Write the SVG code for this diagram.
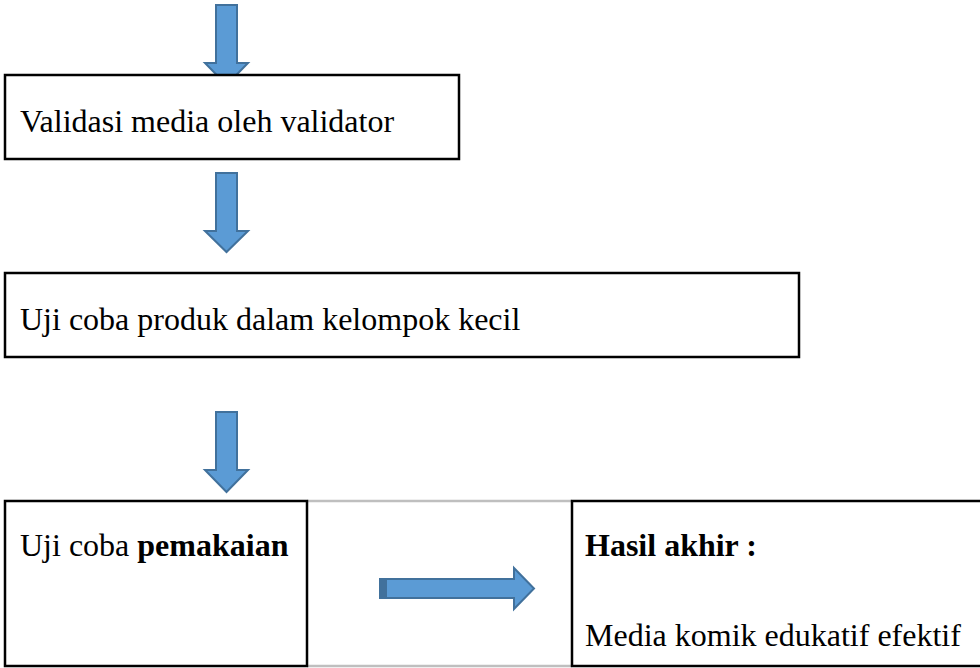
<svg xmlns="http://www.w3.org/2000/svg" width="980" height="668" viewBox="0 0 980 668">
<style>
.box{fill:#fff;stroke:#000;stroke-width:2.5}
.arr{fill:#5B9BD5;stroke:#41719C;stroke-width:2;stroke-linejoin:miter}
.t{font-family:'Liberation Serif','Times New Roman',serif;font-size:32px;fill:#000}
.b{font-weight:bold}
.sep{stroke:#BFBFBF;stroke-width:2.5}
</style>
<rect width="980" height="668" fill="#fff"/>
<g id="connectors">
<polygon class="arr" points="216,5 237,5 237,63 248,63 226.5,85 205,63 216,63"/>
<polygon class="arr" points="216,173 237,173 237,231 248,231 226.5,252 205,231 216,231"/>
<polygon class="arr" points="216,412 237,412 237,470 248,470 226.5,492 205,470 216,470"/>
<polygon class="arr" points="380,579 514,579 514,568 534,588.5 514,609 514,598 380,598"/>
<rect x="380" y="579" width="7" height="19" fill="#41719C"/>
</g>
<g id="node-validasi">
<rect class="box" x="5" y="75" width="454" height="84"/>
<text class="t" x="20" y="132">Validasi media oleh validator</text>
</g>
<g id="node-ujicoba-kecil">
<rect class="box" x="5" y="273" width="794" height="84"/>
<text class="t" x="20" y="330">Uji coba produk dalam kelompok kecil</text>
</g>
<g id="node-separator">
<line class="sep" x1="307" y1="501" x2="572" y2="501"/>
<line class="sep" x1="307" y1="666" x2="572" y2="666"/>
</g>
<g id="node-ujicoba-pemakaian">
<rect class="box" x="5" y="501" width="302" height="165"/>
<text class="t" x="20" y="556">Uji coba <tspan class="b">pemakaian</tspan></text>
</g>
<g id="node-hasil">
<rect class="box" x="572" y="501" width="420" height="165"/>
<text class="t b" x="585" y="556">Hasil akhir :</text>
<text class="t" x="585" y="646">Media komik edukatif efektif</text>
</g>
</svg>
